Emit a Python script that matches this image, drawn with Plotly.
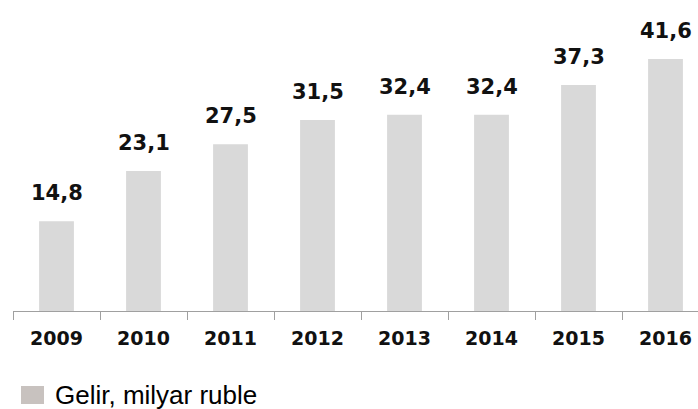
import plotly.graph_objects as go

years = ["2009", "2010", "2011", "2012", "2013", "2014", "2015", "2016"]
values = [14.8, 23.1, 27.5, 31.5, 32.4, 32.4, 37.3, 41.6]
labels = ["14,8", "23,1", "27,5", "31,5", "32,4", "32,4", "37,3", "41,6"]
legend_name = "Gelir, milyar ruble"

W, H = 698, 409
ML, MR, MT, MB = 13, 0, 0, 98

fig = go.Figure()
fig.add_trace(go.Bar(
    x=years, y=values, name=legend_name,
    marker=dict(color="#d9d9d9", line=dict(width=0)),
    width=0.4, showlegend=False, hoverinfo="skip",
))

# category index positions (numeric-like category names are read as indices by annotations)
for i, (v, t) in enumerate(zip(values, labels)):
    fig.add_annotation(
        x=i, y=v, xref="x", yref="y", text="<b>" + t + "</b>", showarrow=False,
        xanchor="center", yanchor="bottom",
        yshift=14, font=dict(family="DejaVu Sans", size=21, color="#111111"),
    )

# manual legend
px_w = W - ML - MR
px_h = H - MT - MB
def px2x(px):
    return (px - ML) / px_w
def px2y(py):
    return (H - MB - py) / px_h

fig.add_shape(type="rect", xref="paper", yref="paper",
              x0=px2x(21), x1=px2x(44), y0=px2y(404), y1=px2y(386),
              fillcolor="#c8c2bf", line=dict(width=0))
fig.add_annotation(xref="paper", yref="paper", x=px2x(53), y=px2y(395),
                   xanchor="left", yanchor="middle", showarrow=False,
                   text=legend_name,
                   font=dict(family="Liberation Sans", size=26, color="#000000"))

span = px_w / 87.0
fig.update_layout(
    width=W, height=H,
    margin=dict(l=ML, r=MR, t=MT, b=MB, pad=0),
    plot_bgcolor="white", paper_bgcolor="white",
    xaxis=dict(
        type="category", range=[-0.5, -0.5 + span],
        showline=True, linecolor="#a0a0a0", linewidth=1,
        ticks="outside", tickson="boundaries", ticklen=8, tickcolor="#a0a0a0",
        tickfont=dict(family="DejaVu Sans", size=19, color="#111111", weight="bold"),
        ticklabelstandoff=10,
        showgrid=False, zeroline=False,
    ),
    yaxis=dict(range=[0, px_h / 6.06], showticklabels=False, showline=False,
               ticks="", showgrid=False, zeroline=False),
)

fig.write_html("out.html", config={"displayModeBar": False},
               post_script="document.body.style.margin='0';document.body.style.overflow='hidden';")
